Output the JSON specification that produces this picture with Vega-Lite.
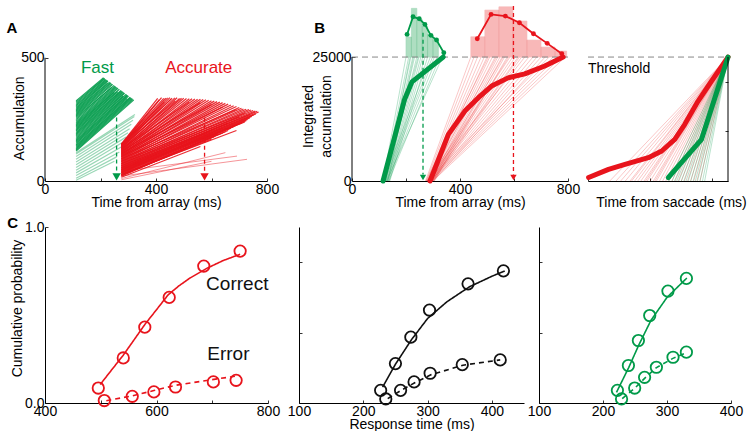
{
"$schema": "https://vega.github.io/schema/vega-lite/v6.json",
"background": "white",
"padding": {"left": 6, "top": 5, "right": 0, "bottom": 0},
"autosize": {"type": "pad"},
"config": {
 "view": {"stroke": null},
 "font": "Liberation Sans",
 "text": {"font": "Liberation Sans"},
 "axis": {"grid": false, "domainColor": "#000", "domainWidth": 1, "tickColor": "#000", "tickSize": -3, "tickWidth": 0.8, "labelFont": "Liberation Sans", "labelFontSize": 14, "labelColor": "#000", "labelPadding": 4, "labelFlush": false, "labelOverlap": false, "labelBound": false, "titleFont": "Liberation Sans", "titleFontSize": 14, "titleFontWeight": "normal", "titleColor": "#000"}
},
"datasets": {
 "aGreen": [
  {"x1":112,"y1":325,"x2":211,"y2":419},{"x1":112,"y1":320,"x2":214,"y2":417},{"x1":112,"y1":315,"x2":216,"y2":415},{"x1":112,"y1":310,"x2":219,"y2":412},{"x1":112,"y1":305,"x2":222,"y2":410},{"x1":112,"y1":299,"x2":225,"y2":408},{"x1":112,"y1":294,"x2":227,"y2":406},{"x1":112,"y1":289,"x2":226,"y2":398},{"x1":112,"y1":284,"x2":233,"y2":401},{"x1":112,"y1":279,"x2":236,"y2":399},{"x1":112,"y1":274,"x2":238,"y2":397},{"x1":112,"y1":269,"x2":241,"y2":394},{"x1":112,"y1":264,"x2":244,"y2":392},{"x1":112,"y1":259,"x2":240,"y2":380},{"x1":112,"y1":254,"x2":249,"y2":388},{"x1":112,"y1":249,"x2":252,"y2":385},{"x1":112,"y1":243,"x2":255,"y2":383},{"x1":112,"y1":238,"x2":257,"y2":381},{"x1":112,"y1":233,"x2":260,"y2":379},{"x1":112,"y1":228,"x2":263,"y2":376},{"x1":112,"y1":223,"x2":250,"y2":360},{"x1":112,"y1":218,"x2":268,"y2":372},{"x1":112,"y1":213,"x2":262,"y2":362},{"x1":112,"y1":208,"x2":274,"y2":367},{"x1":112,"y1":203,"x2":276,"y2":365},{"x1":112,"y1":197,"x2":279,"y2":363},{"x1":112,"y1":192,"x2":282,"y2":361},{"x1":112,"y1":187,"x2":285,"y2":358},{"x1":112,"y1":182,"x2":287,"y2":356},{"x1":112,"y1":177,"x2":282,"y2":345},{"x1":112,"y1":172,"x2":293,"y2":352},{"x1":112,"y1":167,"x2":296,"y2":349},{"x1":112,"y1":162,"x2":298,"y2":347},{"x1":112,"y1":157,"x2":301,"y2":345},{"x1":112,"y1":152,"x2":296,"y2":335},{"x1":112,"y1":146,"x2":307,"y2":340},{"x1":112,"y1":141,"x2":309,"y2":338},{"x1":112,"y1":136,"x2":312,"y2":336},{"x1":112,"y1":131,"x2":315,"y2":334},{"x1":112,"y1":126,"x2":317,"y2":331},{"x1":112,"y1":121,"x2":320,"y2":329}
 ],
 "aGreenLight": [
  {"x1":112,"y1":115,"x2":324,"y2":270},{"x1":112,"y1":110,"x2":322,"y2":262},{"x1":112,"y1":99,"x2":317,"y2":246},{"x1":112,"y1":88,"x2":311,"y2":230},{"x1":112,"y1":77,"x2":305,"y2":212},{"x1":112,"y1":66,"x2":299,"y2":196},{"x1":112,"y1":55,"x2":292,"y2":178},{"x1":112,"y1":44,"x2":285,"y2":160},{"x1":112,"y1":33,"x2":278,"y2":140},{"x1":112,"y1":22,"x2":268,"y2":118},{"x1":112,"y1":11,"x2":258,"y2":98},{"x1":112,"y1":3,"x2":250,"y2":80}
 ],
 "aRed": [
  {"x1":275,"y1":150,"x2":406,"y2":335},{"x1":275,"y1":145,"x2":420,"y2":338},{"x1":275,"y1":141,"x2":435,"y2":336},{"x1":275,"y1":136,"x2":450,"y2":338},{"x1":275,"y1":132,"x2":468,"y2":337},{"x1":275,"y1":127,"x2":485,"y2":335},{"x1":275,"y1":123,"x2":500,"y2":336},{"x1":275,"y1":118,"x2":520,"y2":334},{"x1":275,"y1":114,"x2":540,"y2":333},{"x1":275,"y1":109,"x2":560,"y2":332},{"x1":275,"y1":105,"x2":580,"y2":330},{"x1":275,"y1":100,"x2":600,"y2":326},{"x1":275,"y1":96,"x2":620,"y2":322},{"x1":275,"y1":91,"x2":640,"y2":318},{"x1":275,"y1":87,"x2":660,"y2":312},{"x1":275,"y1":82,"x2":680,"y2":305},{"x1":275,"y1":78,"x2":700,"y2":298},{"x1":275,"y1":73,"x2":715,"y2":292},{"x1":275,"y1":69,"x2":735,"y2":290},{"x1":275,"y1":64,"x2":750,"y2":286},{"x1":275,"y1":60,"x2":765,"y2":283},{"x1":275,"y1":55,"x2":760,"y2":272},{"x1":275,"y1":51,"x2":745,"y2":262},{"x1":275,"y1":46,"x2":730,"y2":250},{"x1":275,"y1":42,"x2":720,"y2":240},{"x1":275,"y1":37,"x2":700,"y2":232},{"x1":275,"y1":33,"x2":680,"y2":220},{"x1":275,"y1":28,"x2":690,"y2":205},{"x1":275,"y1":24,"x2":650,"y2":200},{"x1":275,"y1":19,"x2":620,"y2":190},
  {"x1":275,"y1":148,"x2":430,"y2":320},{"x1":275,"y1":140,"x2":470,"y2":325},{"x1":275,"y1":130,"x2":520,"y2":320},{"x1":275,"y1":120,"x2":560,"y2":318},{"x1":275,"y1":112,"x2":600,"y2":310},{"x1":275,"y1":100,"x2":640,"y2":300},{"x1":275,"y1":90,"x2":690,"y2":290},{"x1":275,"y1":80,"x2":720,"y2":275},{"x1":275,"y1":70,"x2":700,"y2":260},{"x1":275,"y1":62,"x2":740,"y2":270},{"x1":275,"y1":55,"x2":660,"y2":235},{"x1":275,"y1":45,"x2":610,"y2":210},{"x1":275,"y1":35,"x2":640,"y2":215},{"x1":275,"y1":25,"x2":600,"y2":170},{"x1":275,"y1":15,"x2":560,"y2":140},{"x1":275,"y1":145,"x2":455,"y2":333},
  {"x1":275,"y1":150,"x2":412,"y2":330},{"x1":275,"y1":147,"x2":428,"y2":335},{"x1":275,"y1":143,"x2":442,"y2":337},{"x1":275,"y1":139,"x2":458,"y2":336},{"x1":275,"y1":134,"x2":476,"y2":338},{"x1":275,"y1":129,"x2":492,"y2":336},{"x1":275,"y1":125,"x2":510,"y2":335},{"x1":275,"y1":121,"x2":530,"y2":334},{"x1":275,"y1":116,"x2":550,"y2":332},{"x1":275,"y1":111,"x2":570,"y2":331},{"x1":275,"y1":107,"x2":590,"y2":328},{"x1":275,"y1":103,"x2":610,"y2":324},{"x1":275,"y1":98,"x2":630,"y2":320},{"x1":275,"y1":94,"x2":650,"y2":315},{"x1":275,"y1":89,"x2":670,"y2":308},{"x1":275,"y1":85,"x2":690,"y2":302},{"x1":275,"y1":80,"x2":708,"y2":295},{"x1":275,"y1":76,"x2":725,"y2":291},{"x1":275,"y1":71,"x2":742,"y2":288},{"x1":275,"y1":67,"x2":758,"y2":284},{"x1":275,"y1":62,"x2":770,"y2":280},{"x1":275,"y1":58,"x2":752,"y2":268},{"x1":275,"y1":53,"x2":738,"y2":256},{"x1":275,"y1":49,"x2":725,"y2":245},{"x1":275,"y1":44,"x2":710,"y2":236},{"x1":275,"y1":40,"x2":690,"y2":226},{"x1":275,"y1":35,"x2":670,"y2":214},{"x1":275,"y1":31,"x2":660,"y2":205},{"x1":275,"y1":26,"x2":640,"y2":195},{"x1":275,"y1":22,"x2":610,"y2":180}
 ],
 "aRedLight": [
  {"x1":275,"y1":40,"x2":692,"y2":101},{"x1":275,"y1":20,"x2":728,"y2":88},{"x1":275,"y1":10,"x2":650,"y2":115},{"x1":275,"y1":5,"x2":600,"y2":80}
 ],
 "aArrows": [
  {"t":258,"top":258,"cond":"Fast"},{"t":575,"top":257,"cond":"Accurate"}
 ],
 "bGreenThin": [
  {"x0":115,"x1":200},{"x0":118,"x1":210},{"x0":120,"x1":218},{"x0":122,"x1":225},{"x0":125,"x1":232},{"x0":127,"x1":240},{"x0":130,"x1":248},{"x0":132,"x1":255},{"x0":135,"x1":262},{"x0":138,"x1":270},{"x0":140,"x1":280},{"x0":116,"x1":290},{"x0":121,"x1":298},{"x0":126,"x1":305},{"x0":131,"x1":315},{"x0":136,"x1":325},{"x0":128,"x1":335},{"x0":124,"x1":215},{"x0":119,"x1":245},{"x0":133,"x1":228}
 ],
 "bRedThin": [
  {"x0":272,"x1":440},{"x0":275,"x1":452},{"x0":278,"x1":465},{"x0":280,"x1":478},{"x0":283,"x1":490},{"x0":285,"x1":500},{"x0":288,"x1":510},{"x0":290,"x1":520},{"x0":293,"x1":530},{"x0":295,"x1":540},{"x0":298,"x1":548},{"x0":300,"x1":556},{"x0":303,"x1":565},{"x0":305,"x1":575},{"x0":280,"x1":585},{"x0":285,"x1":595},{"x0":290,"x1":605},{"x0":295,"x1":615},{"x0":300,"x1":628},{"x0":276,"x1":640},{"x0":282,"x1":655},{"x0":287,"x1":670},{"x0":292,"x1":685},{"x0":297,"x1":700},{"x0":302,"x1":715},{"x0":278,"x1":730},{"x0":284,"x1":745},{"x0":289,"x1":760},{"x0":294,"x1":775},{"x0":299,"x1":790},{"x0":274,"x1":505},{"x0":281,"x1":535},{"x0":286,"x1":560},{"x0":291,"x1":580},{"x0":296,"x1":620}
 ],
 "bHistG": [
  {"x0":200,"x1":220,"top":29032},{"x0":220,"x1":240,"top":34818},{"x0":240,"x1":260,"top":32600},{"x0":260,"x1":280,"top":31250},{"x0":280,"x1":300,"top":29576},{"x0":300,"x1":320,"top":28568}
 ],
 "bHistR": [
  {"x0":440,"x1":492,"top":29093},{"x0":492,"x1":544,"top":34475},{"x0":544,"x1":596,"top":35140},{"x0":596,"x1":648,"top":32258},{"x0":648,"x1":700,"top":28427},{"x0":700,"x1":752,"top":27016},{"x0":752,"x1":795,"top":26200}
 ],
 "bPoly": [
  {"t":204,"v":29576,"cond":"Fast"},{"t":226,"v":33125,"cond":"Fast"},{"t":249,"v":32721,"cond":"Fast"},{"t":270,"v":31592,"cond":"Fast"},{"t":292,"v":29375,"cond":"Fast"},{"t":313,"v":28427,"cond":"Fast"},{"t":340,"v":25867,"cond":"Fast"},
  {"t":464,"v":28690,"cond":"Accurate"},{"t":515,"v":33608,"cond":"Accurate"},{"t":568,"v":33266,"cond":"Accurate"},{"t":620,"v":31915,"cond":"Accurate"},{"t":672,"v":29697,"cond":"Accurate"},{"t":723,"v":27762,"cond":"Accurate"},{"t":777,"v":25665,"cond":"Accurate"}
 ],
 "bThick": [
  {"t":115,"v":0,"cond":"Fast"},{"t":195,"v":16500,"cond":"Fast"},{"t":222,"v":20000,"cond":"Fast"},{"t":338,"v":25000,"cond":"Fast"},
  {"t":289,"v":0,"cond":"Accurate"},{"t":357,"v":9400,"cond":"Accurate"},{"t":418,"v":14100,"cond":"Accurate"},{"t":468,"v":16800,"cond":"Accurate"},{"t":517,"v":19150,"cond":"Accurate"},{"t":578,"v":20800,"cond":"Accurate"},{"t":640,"v":21600,"cond":"Accurate"},{"t":714,"v":23200,"cond":"Accurate"},{"t":782,"v":25000,"cond":"Accurate"}
 ],
 "bArrows": [
  {"t":263,"top":29900,"cond":"Fast"},{"t":598,"top":35280,"cond":"Accurate"}
 ],
 "brRedThin": [
  {"x0":-380},{"x0":-360},{"x0":-345},{"x0":-330},{"x0":-315},{"x0":-300},{"x0":-290},{"x0":-280},{"x0":-270},{"x0":-260},{"x0":-250},{"x0":-240},{"x0":-230},{"x0":-220},{"x0":-210},{"x0":-200},{"x0":-190},{"x0":-180},{"x0":-170},{"x0":-160},{"x0":-150},{"x0":-140},{"x0":-130},{"x0":-120},{"x0":-110},{"x0":-100},{"x0":-90},{"x0":-310},{"x0":-265},{"x0":-235}
 ],
 "brGreenThin": [
  {"x0":-190},{"x0":-180},{"x0":-172},{"x0":-165},{"x0":-158},{"x0":-150},{"x0":-142},{"x0":-135},{"x0":-128},{"x0":-120},{"x0":-112},{"x0":-105},{"x0":-98},{"x0":-90},{"x0":-82},{"x0":-75}
 ],
 "brThick": [
  {"t":-448,"v":700,"cond":"Accurate"},{"t":-384,"v":2350,"cond":"Accurate"},{"t":-331,"v":3360,"cond":"Accurate"},{"t":-256,"v":4700,"cond":"Accurate"},{"t":-213,"v":6050,"cond":"Accurate"},{"t":-171,"v":8400,"cond":"Accurate"},{"t":-139,"v":11430,"cond":"Accurate"},{"t":-96,"v":16130,"cond":"Accurate"},{"t":-53,"v":20160,"cond":"Accurate"},{"t":0,"v":25000,"cond":"Accurate"},
  {"t":-192,"v":700,"cond":"Fast"},{"t":-85,"v":8400,"cond":"Fast"},{"t":0,"v":25000,"cond":"Fast"}
 ],
 "c1Line": [
  {"rt":499,"p":0.105,"kind":"Correct"},{"rt":520,"p":0.19,"kind":"Correct"},{"rt":540,"p":0.27,"kind":"Correct"},{"rt":560,"p":0.36,"kind":"Correct"},{"rt":580,"p":0.45,"kind":"Correct"},{"rt":600,"p":0.53,"kind":"Correct"},{"rt":621,"p":0.615,"kind":"Correct"},{"rt":640,"p":0.665,"kind":"Correct"},{"rt":660,"p":0.71,"kind":"Correct"},{"rt":690,"p":0.765,"kind":"Correct"},{"rt":720,"p":0.81,"kind":"Correct"},{"rt":750,"p":0.845,"kind":"Correct"},
  {"rt":510,"p":0.013,"kind":"Error"},{"rt":557,"p":0.041,"kind":"Error"},{"rt":597,"p":0.072,"kind":"Error"},{"rt":633,"p":0.1,"kind":"Error"},{"rt":700,"p":0.133,"kind":"Error"},{"rt":750,"p":0.156,"kind":"Error"}
 ],
 "c1Pts": [
  {"rt":495.6,"p":0.085},{"rt":540.4,"p":0.256},{"rt":579,"p":0.431},{"rt":622.8,"p":0.6},{"rt":684.8,"p":0.778},{"rt":750,"p":0.863},
  {"rt":506.4,"p":0.014},{"rt":556.5,"p":0.038},{"rt":595.3,"p":0.063},{"rt":634.1,"p":0.091},{"rt":702,"p":0.12},{"rt":742.8,"p":0.129}
 ],
 "c2Line": [
  {"rt":230,"p":0.09,"kind":"Correct"},{"rt":250,"p":0.22,"kind":"Correct"},{"rt":275,"p":0.36,"kind":"Correct"},{"rt":300,"p":0.48,"kind":"Correct"},{"rt":330,"p":0.575,"kind":"Correct"},{"rt":365,"p":0.66,"kind":"Correct"},{"rt":400,"p":0.72,"kind":"Correct"},{"rt":420,"p":0.75,"kind":"Correct"},
  {"rt":238,"p":0.025,"kind":"Error"},{"rt":258,"p":0.07,"kind":"Error"},{"rt":280,"p":0.115,"kind":"Error"},{"rt":305,"p":0.16,"kind":"Error"},{"rt":355,"p":0.215,"kind":"Error"},{"rt":413,"p":0.245,"kind":"Error"}
 ],
 "c2Pts": [
  {"rt":227,"p":0.072},{"rt":250,"p":0.224},{"rt":274,"p":0.374},{"rt":303,"p":0.528},{"rt":363,"p":0.677},{"rt":418,"p":0.751},
  {"rt":235,"p":0.023},{"rt":258,"p":0.072},{"rt":279,"p":0.12},{"rt":304,"p":0.169},{"rt":354,"p":0.218},{"rt":413,"p":0.245}
 ],
 "c3Line": [
  {"rt":221,"p":0.06,"kind":"Correct"},{"rt":240,"p":0.2,"kind":"Correct"},{"rt":256,"p":0.33,"kind":"Correct"},{"rt":275,"p":0.47,"kind":"Correct"},{"rt":300,"p":0.6,"kind":"Correct"},{"rt":331,"p":0.71,"kind":"Correct"},
  {"rt":230,"p":0.025,"kind":"Error"},{"rt":250,"p":0.085,"kind":"Error"},{"rt":265,"p":0.14,"kind":"Error"},{"rt":283,"p":0.2,"kind":"Error"},{"rt":310,"p":0.255,"kind":"Error"},{"rt":330,"p":0.285,"kind":"Error"}
 ],
 "c3Pts": [
  {"rt":222.5,"p":0.072},{"rt":239.7,"p":0.213},{"rt":255.3,"p":0.355},{"rt":273,"p":0.497},{"rt":301.5,"p":0.636},{"rt":330.3,"p":0.708},
  {"rt":229,"p":0.023},{"rt":249.5,"p":0.085},{"rt":265,"p":0.146},{"rt":283.4,"p":0.203},{"rt":309.4,"p":0.26},{"rt":330.3,"p":0.289}
 ]
},
"spacing": 6,
"vconcat": [
 {
  "hconcat": [
   {
    "width": 222, "height": 175,
    "layer": [
     {"data": {"name": "aGreenLight"}, "mark": {"type": "rule", "color": "#009a49", "opacity": 0.4, "strokeWidth": 1.2},
      "encoding": {
       "x": {"field": "x1", "type": "quantitative", "scale": {"domain": [0, 800], "nice": false, "zero": false}, "title": "Time from array (ms)",
             "axis": {"values": [0,50,100,150,200,250,300,350,400,450,500,550,600,650,700,750,800], "labelExpr": "datum.value % 400 === 0 ? datum.label : ''", "titleY": 25, "titleBaseline": "alphabetic"}},
       "y": {"field": "y1", "type": "quantitative", "scale": {"domain": [0, 710], "nice": false}, "title": "Accumulation",
             "axis": {"values": [0, 500], "domain": false, "titleX": -22, "titleY": 112, "titleBaseline": "alphabetic"}},
       "x2": {"field": "x2"}, "y2": {"field": "y2"}}},
     {"data": {"name": "aGreen"}, "mark": {"type": "rule", "color": "#009a49", "opacity": 0.9, "strokeWidth": 1.2},
      "encoding": {"x": {"field": "x1", "type": "quantitative"}, "y": {"field": "y1", "type": "quantitative"}, "x2": {"field": "x2"}, "y2": {"field": "y2"}}},
     {"data": {"name": "aRedLight"}, "mark": {"type": "rule", "color": "#e8141c", "opacity": 0.45, "strokeWidth": 1},
      "encoding": {"x": {"field": "x1", "type": "quantitative"}, "y": {"field": "y1", "type": "quantitative"}, "x2": {"field": "x2"}, "y2": {"field": "y2"}}},
     {"data": {"name": "aRed"}, "mark": {"type": "rule", "color": "#e8141c", "opacity": 0.9, "strokeWidth": 1.2},
      "encoding": {"x": {"field": "x1", "type": "quantitative"}, "y": {"field": "y1", "type": "quantitative"}, "x2": {"field": "x2"}, "y2": {"field": "y2"}}},
     {"data": {"name": "aArrows"}, "mark": {"type": "rule", "strokeDash": [4, 3], "strokeWidth": 1.3},
      "encoding": {"x": {"field": "t", "type": "quantitative"}, "y": {"field": "top", "type": "quantitative"}, "y2": {"datum": 30},
       "color": {"field": "cond", "type": "nominal", "scale": {"domain": ["Fast", "Accurate"], "range": ["#009a49", "#e8141c"]}, "legend": null}}},
     {"data": {"name": "aArrows"}, "mark": {"type": "point", "shape": "triangle-down", "filled": true, "opacity": 1, "size": 70},
      "encoding": {"x": {"field": "t", "type": "quantitative"}, "y": {"datum": 17},
       "color": {"field": "cond", "type": "nominal", "scale": {"domain": ["Fast", "Accurate"], "range": ["#009a49", "#e8141c"]}, "legend": null}}},
     {"data": {"values": [{}]}, "mark": {"type": "rule", "color": "#000", "strokeWidth": 1},
      "encoding": {"x": {"datum": 0}, "y": {"datum": 0}, "y2": {"datum": 500}}},
     {"data": {"values": [{}]}, "mark": {"type": "text", "text": "Fast", "fontSize": 17, "color": "#009a49", "align": "center", "baseline": "middle"},
      "encoding": {"x": {"datum": 189}, "y": {"datum": 460}}},
     {"data": {"values": [{}]}, "mark": {"type": "text", "text": "Accurate", "fontSize": 17, "color": "#e8141c", "align": "center", "baseline": "middle"},
      "encoding": {"x": {"datum": 554}, "y": {"datum": 460}}},
     {"data": {"values": [{}]}, "mark": {"type": "text", "text": "A", "fontSize": 15, "fontWeight": "bold", "color": "#000", "align": "center", "baseline": "middle"},
      "encoding": {"x": {"datum": -119}, "y": {"datum": 621}}}
    ]
   },
   {"width": 85, "height": 10, "data": {"values": []}, "mark": "point"},
   {
    "width": 216, "height": 175,
    "layer": [
     {"data": {"name": "bRedThin"}, "mark": {"type": "rule", "color": "#ec3b3b", "opacity": 0.28, "strokeWidth": 1},
      "encoding": {
       "x": {"field": "x0", "type": "quantitative", "scale": {"domain": [0, 800], "nice": false, "zero": false}, "title": "Time from array (ms)",
             "axis": {"values": [0,50,100,150,200,250,300,350,400,450,500,550,600,650,700,750,800], "labelExpr": "datum.value % 400 === 0 ? datum.label : ''", "titleY": 25, "titleBaseline": "alphabetic"}},
       "y": {"datum": 0, "type": "quantitative"},
       "x2": {"field": "x1"}, "y2": {"datum": 25000}}},
     {"data": {"name": "bGreenThin"}, "mark": {"type": "rule", "color": "#1aa35a", "opacity": 0.3, "strokeWidth": 1},
      "encoding": {"x": {"field": "x0", "type": "quantitative"}, "y": {"datum": 0}, "x2": {"field": "x1"}, "y2": {"datum": 25000}}},
     {"data": {"name": "bHistG"}, "mark": {"type": "rect", "color": "#6cc490", "opacity": 0.55, "stroke": "#4fb37a", "strokeWidth": 0.6},
      "encoding": {"x": {"field": "x0", "type": "quantitative"}, "x2": {"field": "x1"}, "y": {"field": "top", "type": "quantitative", "title": ["Integrated", "accumulation"]}, "y2": {"datum": 25000}}},
     {"data": {"name": "bHistR"}, "mark": {"type": "rect", "color": "#f47f7f", "opacity": 0.55, "stroke": "#ef7a7a", "strokeWidth": 0.6},
      "encoding": {"x": {"field": "x0", "type": "quantitative"}, "x2": {"field": "x1"}, "y": {"field": "top", "type": "quantitative", "title": ["Integrated", "accumulation"]}, "y2": {"datum": 25000}}},
     {"data": {"values": [{}]}, "mark": {"type": "rule", "color": "#888", "strokeDash": [6, 4], "strokeWidth": 1},
      "encoding": {"x": {"datum": 0}, "x2": {"datum": 800}, "y": {"datum": 25000}}},
     {"data": {"name": "bArrows"}, "mark": {"type": "rule", "strokeDash": [4, 3], "strokeWidth": 1.3},
      "encoding": {"x": {"field": "t", "type": "quantitative"}, "y": {"field": "top", "type": "quantitative", "title": ["Integrated", "accumulation"]}, "y2": {"datum": 1300},
       "color": {"field": "cond", "type": "nominal", "scale": {"domain": ["Fast", "Accurate"], "range": ["#009a49", "#e8141c"]}, "legend": null}}},
     {"data": {"name": "bArrows"}, "mark": {"type": "point", "shape": "triangle-down", "filled": true, "opacity": 1, "size": 40},
      "encoding": {"x": {"field": "t", "type": "quantitative"}, "y": {"datum": 700},
       "color": {"field": "cond", "type": "nominal", "scale": {"domain": ["Fast", "Accurate"], "range": ["#009a49", "#e8141c"]}, "legend": null}}},
     {"data": {"name": "bThick"}, "mark": {"type": "line", "strokeWidth": 5, "strokeCap": "round", "strokeJoin": "round"},
      "encoding": {"x": {"field": "t", "type": "quantitative"},
       "y": {"field": "v", "type": "quantitative", "scale": {"domain": [0, 35300], "nice": false}, "title": ["Integrated", "accumulation"],
             "axis": {"values": [0, 25000], "format": "d", "domain": false, "titleX": -40, "titleY": 110, "titleBaseline": "alphabetic", "titleLineHeight": 18}},
       "detail": {"field": "cond"},
       "color": {"field": "cond", "type": "nominal", "scale": {"domain": ["Fast", "Accurate"], "range": ["#009a49", "#e8141c"]}, "legend": null}}},
     {"data": {"name": "bPoly"}, "mark": {"type": "line", "strokeWidth": 1.8, "point": {"filled": true, "size": 24}},
      "encoding": {"x": {"field": "t", "type": "quantitative"}, "y": {"field": "v", "type": "quantitative", "title": ["Integrated", "accumulation"]}, "detail": {"field": "cond"},
       "color": {"field": "cond", "type": "nominal", "scale": {"domain": ["Fast", "Accurate"], "range": ["#009a49", "#e8141c"]}, "legend": null}}},
     {"data": {"values": [{}]}, "mark": {"type": "rule", "color": "#000", "strokeWidth": 1},
      "encoding": {"x": {"datum": 0}, "y": {"datum": 0}, "y2": {"datum": 25000}}},
     {"data": {"values": [{}]}, "mark": {"type": "text", "text": "B", "fontSize": 15, "fontWeight": "bold", "color": "#000", "align": "center", "baseline": "middle"},
      "encoding": {"x": {"datum": -120}, "y": {"datum": 30862}}}
    ]
   },
   {"width": 20, "height": 10, "data": {"values": []}, "mark": "point"},
   {
    "width": 140, "height": 175,
    "layer": [
     {"data": {"name": "brRedThin"}, "mark": {"type": "rule", "color": "#ec3b3b", "opacity": 0.28, "strokeWidth": 1},
      "encoding": {
       "x": {"field": "x0", "type": "quantitative", "scale": {"domain": [-450, 0], "nice": false, "zero": false}, "title": "Time from saccade (ms)",
             "axis": {"values": [-450,-400,-350,-300,-250,-200,-150,-100,-50,0], "labelExpr": "datum.value === -400 || datum.value === 0 ? datum.label : ''", "titleX": 83, "titleY": 25, "titleBaseline": "alphabetic"}},
       "y": {"datum": 0, "type": "quantitative"},
       "x2": {"datum": 0}, "y2": {"datum": 25000}}},
     {"data": {"name": "brGreenThin"}, "mark": {"type": "rule", "color": "#1aa35a", "opacity": 0.3, "strokeWidth": 1},
      "encoding": {"x": {"field": "x0", "type": "quantitative"}, "y": {"datum": 0}, "x2": {"datum": 0}, "y2": {"datum": 25000}}},
     {"data": {"values": [{}]}, "mark": {"type": "rule", "color": "#888", "strokeDash": [6, 4], "strokeWidth": 1},
      "encoding": {"x": {"datum": -450}, "x2": {"datum": 0}, "y": {"datum": 25000}}},
     {"data": {"name": "brThick"}, "mark": {"type": "line", "strokeWidth": 5, "strokeCap": "round", "strokeJoin": "round"},
      "encoding": {"x": {"field": "t", "type": "quantitative"},
       "y": {"field": "v", "type": "quantitative", "scale": {"domain": [0, 35300], "nice": false}, "title": null,
             "axis": {"orient": "right", "values": [0,5000,10000,15000,20000,25000], "labels": false, "domain": false, "title": null}},
       "detail": {"field": "cond"},
       "color": {"field": "cond", "type": "nominal", "scale": {"domain": ["Fast", "Accurate"], "range": ["#009a49", "#e8141c"]}, "legend": null}}},
     {"data": {"values": [{}]}, "mark": {"type": "rule", "color": "#000", "strokeWidth": 1},
      "encoding": {"x": {"datum": 0}, "y": {"datum": 0}, "y2": {"datum": 25000}}},
     {"data": {"values": [{}]}, "mark": {"type": "text", "text": "Threshold", "fontSize": 14, "color": "#000", "align": "left", "baseline": "middle"},
      "encoding": {"x": {"datum": -450}, "y": {"datum": 22600}}}
    ]
   }
  ],
  "spacing": 0,
  "bounds": "flush"
 },
 {
  "hconcat": [
   {
    "width": 223, "height": 176,
    "layer": [
     {"data": {"name": "c1Line"}, "mark": {"type": "line", "color": "#e8141c", "strokeWidth": 1.6},
      "encoding": {
       "x": {"field": "rt", "type": "quantitative", "scale": {"domain": [400, 800], "nice": false, "zero": false}, "title": null,
             "axis": {"values": [400,425,450,475,500,525,550,575,600,625,650,675,700,725,750,775,800], "labelExpr": "datum.value % 200 === 0 ? datum.label : ''"}},
       "y": {"field": "p", "type": "quantitative", "scale": {"domain": [0, 1], "nice": false}, "title": "Cumulative probability",
             "axis": {"values": [0, 1], "format": ".1f", "titleX": -24, "titleY": 81, "titleBaseline": "alphabetic"}},
       "detail": {"field": "kind"},
       "strokeDash": {"field": "kind", "type": "nominal", "scale": {"domain": ["Correct", "Error"], "range": [[1, 0], [5, 4]]}, "legend": null}}},
     {"data": {"name": "c1Pts"}, "mark": {"type": "point", "shape": "circle", "filled": false, "color": "#e8141c", "size": 130, "strokeWidth": 1.8, "opacity": 1},
      "encoding": {"x": {"field": "rt", "type": "quantitative"}, "y": {"field": "p", "type": "quantitative"}}},
     {"data": {"values": [{}]}, "mark": {"type": "text", "text": "Correct", "fontSize": 19, "color": "#111", "align": "left", "baseline": "middle"},
      "encoding": {"x": {"datum": 689}, "y": {"datum": 0.674}}},
     {"data": {"values": [{}]}, "mark": {"type": "text", "text": "Error", "fontSize": 19, "color": "#111", "align": "left", "baseline": "middle"},
      "encoding": {"x": {"datum": 691}, "y": {"datum": 0.279}}},
     {"data": {"values": [{}]}, "mark": {"type": "text", "text": "C", "fontSize": 15, "fontWeight": "bold", "color": "#000", "align": "center", "baseline": "middle"},
      "encoding": {"x": {"datum": 342}, "y": {"datum": 1.023}}}
    ]
   },
   {"width": 31, "height": 10, "data": {"values": []}, "mark": "point"},
   {
    "width": 225, "height": 176,
    "layer": [
     {"data": {"name": "c2Line"}, "mark": {"type": "line", "color": "#111", "strokeWidth": 1.6},
      "encoding": {
       "x": {"field": "rt", "type": "quantitative", "scale": {"domain": [100, 450], "nice": false, "zero": false}, "title": "Response time (ms)",
             "axis": {"values": [100,125,150,175,200,225,250,275,300,325,350,375,400,425,450], "labelExpr": "datum.value % 100 === 0 ? datum.label : ''", "titleY": 25, "titleBaseline": "alphabetic"}},
       "y": {"field": "p", "type": "quantitative", "scale": {"domain": [0, 1], "nice": false}, "title": null,
             "axis": {"values": [0,0.1,0.2,0.3,0.4,0.5,0.6,0.7,0.8,0.9,1], "labels": false}},
       "detail": {"field": "kind"},
       "strokeDash": {"field": "kind", "type": "nominal", "scale": {"domain": ["Correct", "Error"], "range": [[1, 0], [5, 4]]}, "legend": null}}},
     {"data": {"name": "c2Pts"}, "mark": {"type": "point", "shape": "circle", "filled": false, "color": "#111", "size": 130, "strokeWidth": 1.8, "opacity": 1},
      "encoding": {"x": {"field": "rt", "type": "quantitative"}, "y": {"field": "p", "type": "quantitative"}}}
    ]
   },
   {"width": 15, "height": 10, "data": {"values": []}, "mark": "point"},
   {
    "width": 192, "height": 176,
    "layer": [
     {"data": {"name": "c3Line"}, "mark": {"type": "line", "color": "#009a49", "strokeWidth": 1.6},
      "encoding": {
       "x": {"field": "rt", "type": "quantitative", "scale": {"domain": [100, 400], "nice": false, "zero": false}, "title": null,
             "axis": {"values": [100,125,150,175,200,225,250,275,300,325,350,375,400], "labelExpr": "datum.value % 100 === 0 ? datum.label : ''"}},
       "y": {"field": "p", "type": "quantitative", "scale": {"domain": [0, 1], "nice": false}, "title": null,
             "axis": {"values": [0,0.1,0.2,0.3,0.4,0.5,0.6,0.7,0.8,0.9,1], "labels": false}},
       "detail": {"field": "kind"},
       "strokeDash": {"field": "kind", "type": "nominal", "scale": {"domain": ["Correct", "Error"], "range": [[1, 0], [5, 4]]}, "legend": null}}},
     {"data": {"name": "c3Pts"}, "mark": {"type": "point", "shape": "circle", "filled": false, "color": "#009a49", "size": 130, "strokeWidth": 1.8, "opacity": 1},
      "encoding": {"x": {"field": "rt", "type": "quantitative"}, "y": {"field": "p", "type": "quantitative"}}}
    ]
   }
  ],
  "spacing": 0,
  "bounds": "flush"
 }
]
}
